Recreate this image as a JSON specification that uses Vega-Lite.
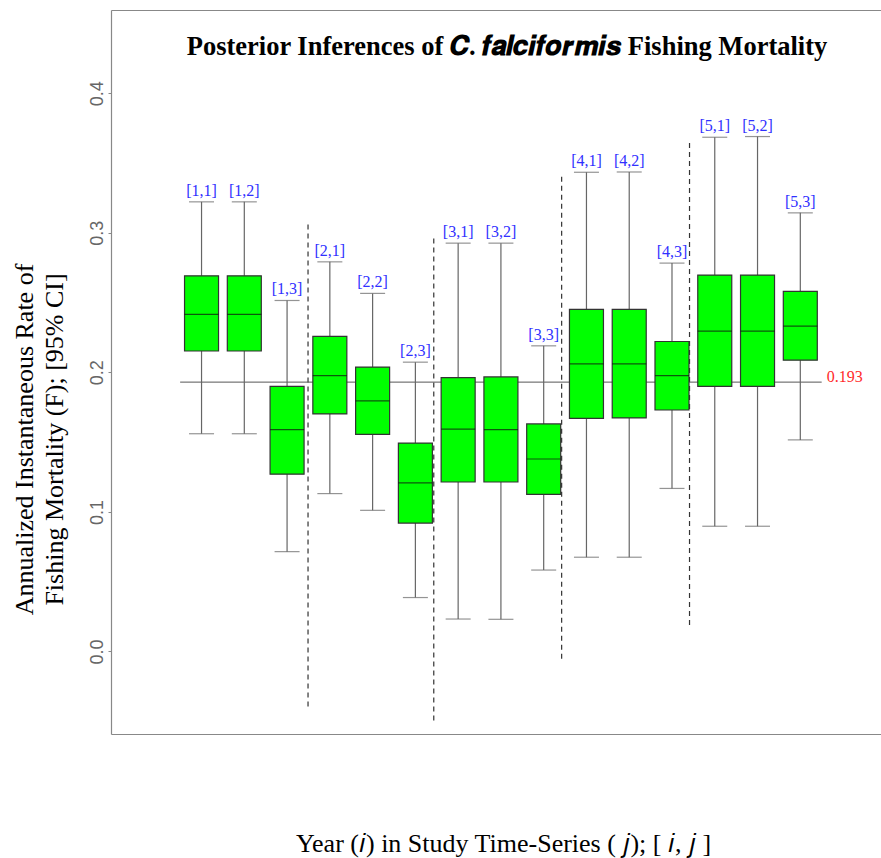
{
  "$schema": "https://vega.github.io/schema/vega-lite/v6.json",
  "width": 770,
  "height": 724,
  "autosize": "none",
  "padding": {"left": 111, "top": 10, "right": 0, "bottom": 124},
  "background": "white",
  "config": {
    "view": {"stroke": null},
    "font": "Liberation Serif",
    "axis": {"grid": false}
  },
  "title": {
    "text": "Posterior Inferences of 𝑪. 𝒇𝒂𝒍𝒄𝒊𝒇𝒐𝒓𝒎𝒊𝒔 Fishing Mortality",
    "font": "Liberation Serif",
    "fontSize": 26.5,
    "fontWeight": "bold",
    "color": "#000000",
    "anchor": "middle",
    "orient": "top",
    "baseline": "alphabetic",
    "offset": -71,
    "dx": 11
  },
  "datasets": {
    "boxes": [
      {"pos": 1, "label": "[1,1]", "lo": 0.1560, "q1": 0.2153, "med": 0.2415, "q3": 0.2692, "hi": 0.3222},
      {"pos": 2, "label": "[1,2]", "lo": 0.1560, "q1": 0.2153, "med": 0.2415, "q3": 0.2692, "hi": 0.3222},
      {"pos": 3, "label": "[1,3]", "lo": 0.0715, "q1": 0.1270, "med": 0.1590, "q3": 0.1899, "hi": 0.2515},
      {"pos": 4, "label": "[2,1]", "lo": 0.1131, "q1": 0.1702, "med": 0.1976, "q3": 0.2258, "hi": 0.2792},
      {"pos": 5, "label": "[2,2]", "lo": 0.1011, "q1": 0.1556, "med": 0.1796, "q3": 0.2038, "hi": 0.2566},
      {"pos": 6, "label": "[2,3]", "lo": 0.0386, "q1": 0.0920, "med": 0.1208, "q3": 0.1493, "hi": 0.2073},
      {"pos": 7, "label": "[3,1]", "lo": 0.0232, "q1": 0.1214, "med": 0.1593, "q3": 0.1962, "hi": 0.2926},
      {"pos": 8, "label": "[3,2]", "lo": 0.0230, "q1": 0.1214, "med": 0.1590, "q3": 0.1967, "hi": 0.2926},
      {"pos": 9, "label": "[3,3]", "lo": 0.0583, "q1": 0.1125, "med": 0.1379, "q3": 0.1630, "hi": 0.2190},
      {"pos": 10, "label": "[4,1]", "lo": 0.0675, "q1": 0.1670, "med": 0.2061, "q3": 0.2452, "hi": 0.3434},
      {"pos": 11, "label": "[4,2]", "lo": 0.0675, "q1": 0.1673, "med": 0.2061, "q3": 0.2452, "hi": 0.3436},
      {"pos": 12, "label": "[4,3]", "lo": 0.1168, "q1": 0.1730, "med": 0.1976, "q3": 0.2221, "hi": 0.2783},
      {"pos": 13, "label": "[5,1]", "lo": 0.0897, "q1": 0.1899, "med": 0.2295, "q3": 0.2697, "hi": 0.3685},
      {"pos": 14, "label": "[5,2]", "lo": 0.0897, "q1": 0.1899, "med": 0.2295, "q3": 0.2697, "hi": 0.3690},
      {"pos": 15, "label": "[5,3]", "lo": 0.1516, "q1": 0.2087, "med": 0.2332, "q3": 0.2580, "hi": 0.3143}
    ],
    "dividers": [
      {"x": 3.49, "ylo": -0.0395, "yhi": 0.3071},
      {"x": 6.43, "ylo": -0.0495, "yhi": 0.2966},
      {"x": 9.42, "ylo": -0.0053, "yhi": 0.3414},
      {"x": 12.41, "ylo": 0.0190, "yhi": 0.3650}
    ],
    "ref": [
      {"x": 0.5, "x2": 15.5, "y": 0.193, "lab": "0.193"}
    ]
  },
  "resolve": {"axis": {"x": "independent"}},
  "layer": [
    {
      "data": {"name": "dividers"},
      "mark": {"type": "rule", "color": "#333333", "strokeWidth": 1.2, "strokeDash": [5, 4]},
      "encoding": {
        "x": {
          "field": "x", "type": "quantitative",
          "scale": {"domain": [-1, 16.77], "nice": false, "zero": false},
          "axis": {"orient": "bottom", "labels": false, "ticks": false, "domainColor": "#888888", "domainWidth": 1.2,
            "title": "Year (𝑖) in Study Time-Series ( 𝑗);  [ 𝑖, 𝑗 ]",
            "titleFont": "Liberation Serif", "titleFontSize": 26, "titleFontWeight": "normal", "titleColor": "#000000",
            "titlePadding": 96, "titleX": 392, "titleAlign": "center", "titleAnchor": null}
        },
        "y": {
          "field": "ylo", "type": "quantitative",
          "scale": {"domain": [-0.0592, 0.4597], "nice": false, "zero": false},
          "axis": {
            "values": [0, 0.1, 0.2, 0.3, 0.4], "format": ".1f",
            "labelAngle": -90, "labelAlign": "center", "labelBaseline": "middle",
            "labelFont": "Liberation Sans", "labelFontSize": 18, "labelColor": "#666666", "labelPadding": 11,
            "tickSize": 3, "tickColor": "#888888", "domainColor": "#888888", "domainWidth": 1.2,
            "title": ["Annualized Instantaneous Rate of", "Fishing Mortality (F); [95% CI]"],
            "titleFont": "Liberation Serif", "titleFontSize": 26, "titleFontWeight": "normal", "titleColor": "#000000",
            "titleAngle": -90, "titleX": -87, "titleY": 429, "titleAlign": "center", "titleBaseline": "middle", "titleLineHeight": 30
          }
        },
        "y2": {"field": "yhi"}
      }
    },
    {
      "data": {"name": "ref"},
      "mark": {"type": "rule", "color": "#555555", "strokeWidth": 1},
      "encoding": {
        "x": {"field": "x", "type": "quantitative",
          "axis": {"orient": "top", "labels": false, "ticks": false, "title": null, "domainColor": "#888888", "domainWidth": 1.2}},
        "x2": {"field": "x2"},
        "y": {"field": "y", "type": "quantitative"}
      }
    },
    {
      "data": {"name": "ref"},
      "mark": {"type": "text", "align": "left", "baseline": "alphabetic", "dx": 5, "font": "Liberation Serif", "fontSize": 16, "color": "#ff2a2a"},
      "encoding": {
        "x": {"field": "x2", "type": "quantitative", "axis": null},
        "y": {"field": "y", "type": "quantitative"},
        "text": {"field": "lab"}
      }
    },
    {
      "data": {"name": "boxes"},
      "mark": {"type": "rule", "color": "#666666", "strokeWidth": 1.2},
      "encoding": {
        "x": {"field": "pos", "type": "quantitative", "axis": null},
        "y": {"field": "lo", "type": "quantitative"},
        "y2": {"field": "hi"}
      }
    },
    {
      "data": {"name": "boxes"},
      "mark": {"type": "tick", "orient": "horizontal", "size": 25, "thickness": 1.2, "color": "#666666"},
      "encoding": {
        "x": {"field": "pos", "type": "quantitative", "axis": null},
        "y": {"field": "lo", "type": "quantitative"}
      }
    },
    {
      "data": {"name": "boxes"},
      "mark": {"type": "tick", "orient": "horizontal", "size": 25, "thickness": 1.2, "color": "#666666"},
      "encoding": {
        "x": {"field": "pos", "type": "quantitative", "axis": null},
        "y": {"field": "hi", "type": "quantitative"}
      }
    },
    {
      "data": {"name": "boxes"},
      "mark": {"type": "bar", "width": 34, "fill": "#00ff00", "stroke": "#333333", "strokeWidth": 1.2},
      "encoding": {
        "x": {"field": "pos", "type": "quantitative", "axis": null},
        "y": {"field": "q3", "type": "quantitative"},
        "y2": {"field": "q1"}
      }
    },
    {
      "data": {"name": "boxes"},
      "mark": {"type": "tick", "orient": "horizontal", "size": 34, "thickness": 1.2, "color": "#111111"},
      "encoding": {
        "x": {"field": "pos", "type": "quantitative", "axis": null},
        "y": {"field": "med", "type": "quantitative"}
      }
    },
    {
      "data": {"name": "boxes"},
      "mark": {"type": "text", "align": "center", "baseline": "alphabetic", "dy": -6, "font": "Liberation Serif", "fontSize": 16, "color": "#3030ff"},
      "encoding": {
        "x": {"field": "pos", "type": "quantitative", "axis": null},
        "y": {"field": "hi", "type": "quantitative"},
        "text": {"field": "label"}
      }
    }
  ]
}
